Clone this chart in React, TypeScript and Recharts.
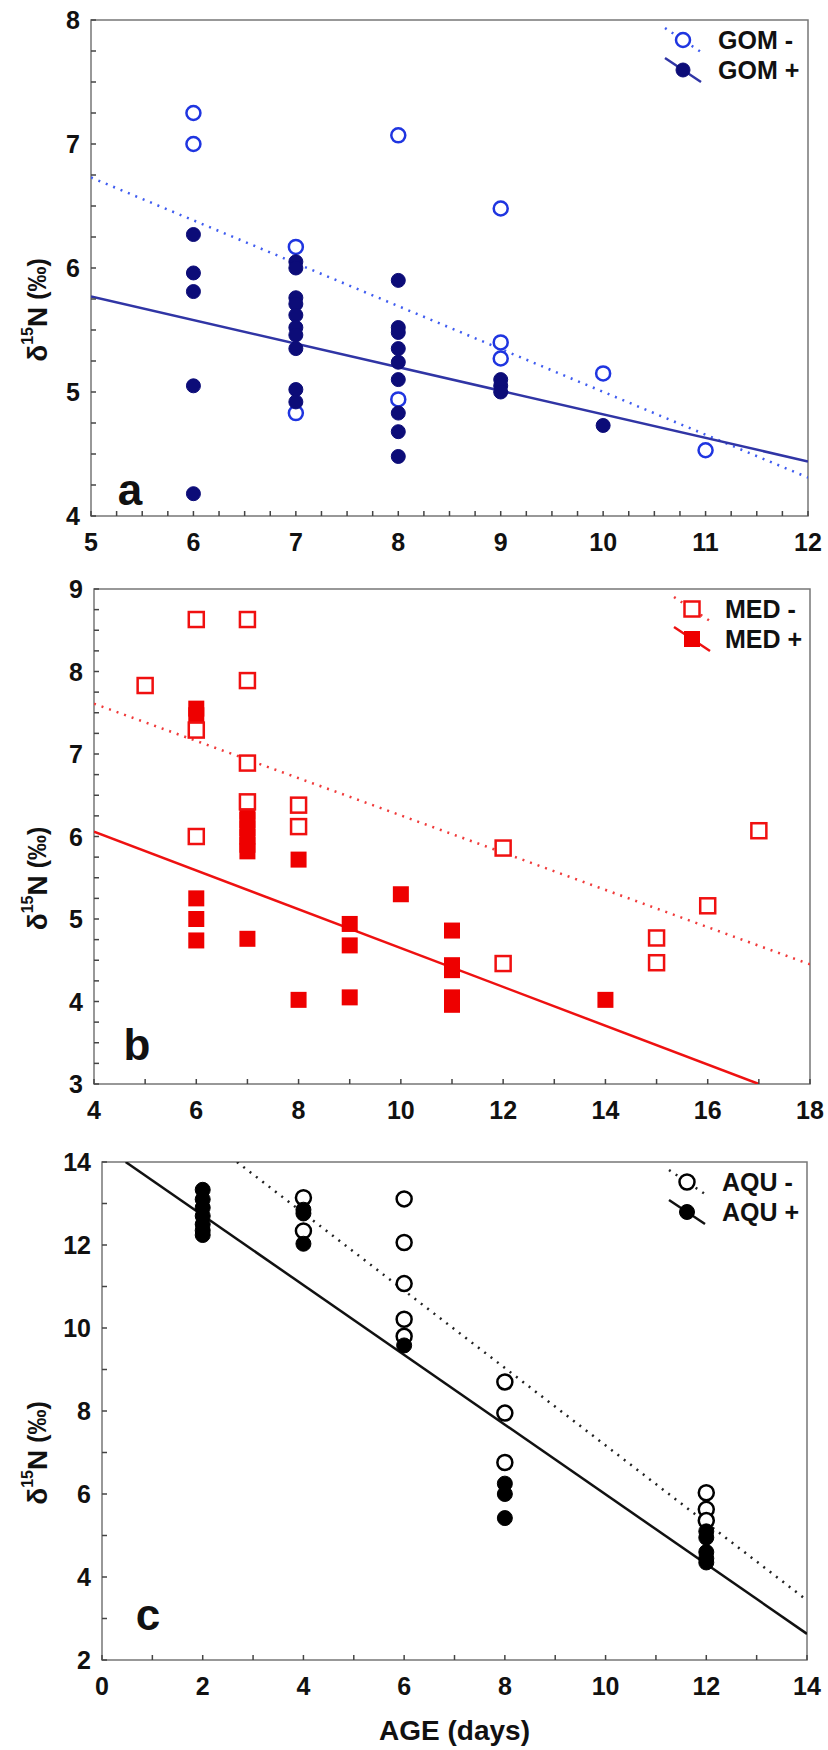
import React from "react";
import {
  ScatterChart,
  Scatter,
  XAxis,
  YAxis,
  ReferenceArea,
  ReferenceLine,
} from "recharts";

const FONT = "'Liberation Sans', Arial, sans-serif";

// ---- panel a: GOM (age, d15N) ----
const gomMinus = [
  [6, 7.25], [6, 7.0], [7, 6.17], [7, 4.83], [8, 7.07], [8, 4.94],
  [9, 6.48], [9, 5.4], [9, 5.27], [10, 5.15], [11, 4.53],
];
const gomPlus = [
  [6, 6.27], [6, 5.96], [6, 5.81], [6, 5.05], [6, 4.18],
  [7, 6.05], [7, 6.0], [7, 5.76], [7, 5.71], [7, 5.62], [7, 5.52], [7, 5.46], [7, 5.35], [7, 5.02], [7, 4.92],
  [8, 5.9], [8, 5.52], [8, 5.48], [8, 5.35], [8, 5.24], [8, 5.1], [8, 4.83], [8, 4.68], [8, 4.48],
  [9, 5.1], [9, 5.05], [9, 5.0], [10, 4.73],
];
const gomMinusFit = [[5, 6.73], [12, 4.31]];
const gomPlusFit = [[5, 5.77], [12, 4.44]];

// ---- panel b: MED ----
const medMinus = [
  [5, 7.83], [6, 8.63], [6, 7.29], [6, 6.0], [7, 8.63], [7, 7.89], [7, 6.89], [7, 6.42],
  [8, 6.38], [8, 6.12], [12, 5.86], [12, 4.46], [15, 4.77], [15, 4.47], [16, 5.16], [17, 6.07],
];
const medPlus = [
  [6, 7.55], [6, 7.47], [6, 5.25], [6, 5.0], [6, 4.74],
  [7, 6.3], [7, 6.2], [7, 6.1], [7, 6.0], [7, 5.9], [7, 5.82], [7, 4.76],
  [8, 5.72], [8, 4.02], [9, 4.94], [9, 4.68], [9, 4.05], [10, 5.3],
  [11, 4.86], [11, 4.44], [11, 4.38], [11, 4.05], [11, 3.96], [14, 4.02],
];
const medMinusFit = [[4, 7.61], [18, 4.45]];
const medPlusFit = [[4, 6.06], [17, 3.0]];

// ---- panel c: AQU ----
const aquMinus = [
  [4, 13.14], [4, 12.34], [6, 13.11], [6, 12.06], [6, 11.07], [6, 10.21], [6, 9.8],
  [8, 8.7], [8, 7.95], [8, 6.76], [12, 6.03], [12, 5.63], [12, 5.36],
];
const aquPlus = [
  [2, 13.33], [2, 13.1], [2, 12.9], [2, 12.7], [2, 12.5], [2, 12.35], [2, 12.24],
  [4, 12.85], [4, 12.76], [4, 12.03], [6, 9.58], [8, 6.25], [8, 6.0], [8, 5.42],
  [12, 5.1], [12, 4.95], [12, 4.6], [12, 4.45], [12, 4.35],
];
const aquMinusFit = [[2.68, 14], [14, 3.44]];
const aquPlusFit = [[0.47, 14], [14, 2.63]];

// tick labels
const aXLabels = [5, 6, 7, 8, 9, 10, 11, 12];
const aYLabels = [4, 5, 6, 7, 8];
const bXLabels = [4, 6, 8, 10, 12, 14, 16, 18];
const bYLabels = [3, 4, 5, 6, 7, 8, 9];
const cXLabels = [0, 2, 4, 6, 8, 10, 12, 14];
const cYLabels = [2, 4, 6, 8, 10, 12, 14];

// minor tick positions
const steps = (from: number, to: number, step: number) => {
  const out: number[] = [];
  for (let i = 0; from + i * step <= to + 1e-9; i++) out.push(from + i * step);
  return out;
};

const pts = (arr: number[][]) => arr.map(([x, y]) => ({ x, y }));

// inward tick + optional label
const Tick = ({ x, y, payload, side, labels }: any) => {
  const v = payload.value;
  const show = labels && labels.includes(v);
  const len = 5;
  let line = null;
  let label = null;
  const txt = { fontFamily: FONT, fontWeight: "bold" as const, fontSize: 25, fill: "#111" };
  if (side === "bottom") {
    line = <line x1={x} y1={y} x2={x} y2={y - len} stroke="#444" strokeWidth={1.5} />;
    if (show) label = <text x={x} y={y + 26} textAnchor="middle" dominantBaseline="central" {...txt}>{v}</text>;
  } else if (side === "top") {
    line = <line x1={x} y1={y} x2={x} y2={y + len} stroke="#444" strokeWidth={1.5} />;
  } else if (side === "left") {
    line = <line x1={x} y1={y} x2={x + len} y2={y} stroke="#444" strokeWidth={1.5} />;
    if (show) label = <text x={x - 11} y={y} textAnchor="end" dominantBaseline="central" {...txt}>{v}</text>;
  } else {
    line = <line x1={x} y1={y} x2={x - len} y2={y} stroke="#444" strokeWidth={1.5} />;
  }
  return <g>{line}{label}</g>;
};

const openCircle = (color: string, r: number) => (p: any) =>
  <circle cx={p.cx} cy={p.cy} r={r} fill="#fff" stroke={color} strokeWidth={2.5} />;
const fullCircle = (color: string, r: number) => (p: any) =>
  <circle cx={p.cx} cy={p.cy} r={r} fill={color} stroke={color} strokeWidth={1} />;
const openSquare = (color: string, s: number) => (p: any) =>
  <rect x={p.cx - s / 2} y={p.cy - s / 2} width={s} height={s} fill="#fff" stroke={color} strokeWidth={2.5} />;
const fullSquare = (color: string, s: number) => (p: any) =>
  <rect x={p.cx - s / 2} y={p.cy - s / 2} width={s} height={s} fill={color} />;

const YTitle = ({ cx, cy }: any) => (
  <text
    transform={`translate(${cx},${cy}) rotate(-90)`}
    textAnchor="middle"
    dominantBaseline="central"
    fontFamily={FONT}
    fontWeight="bold"
    fill="#111"
  >
    <tspan fontSize={28}>δ</tspan>
    <tspan fontSize={16} dy={-10}>15</tspan>
    <tspan fontSize={28} dy={10}>N</tspan>
    <tspan fontSize={25}> (‰)</tspan>
  </text>
);

const LegendRow = ({ y, mx, tx, label, lineColor, dotted, marker }: any) => (
  <g>
    <line
      x1={mx - 18} y1={y - 12} x2={mx + 18} y2={y + 12}
      stroke={lineColor} strokeWidth={2.5}
      strokeDasharray={dotted ? "2 6" : undefined}
    />
    {marker({ cx: mx, cy: y })}
    <text x={tx} y={y} dominantBaseline="central" fontFamily={FONT} fontWeight="bold" fontSize={25} fill="#111">
      {label}
    </text>
  </g>
);

type PanelProps = {
  top: number;
  height: number;
  plotTop: number;
  xAxisH: number;
  yAxisW: number;
  right: number;
  xDomain: [number, number];
  yDomain: [number, number];
  xTicks: number[];
  yTicks: number[];
  xLabels: number[];
  yLabels: number[];
  minus: number[][];
  plus: number[][];
  minusFit: number[][];
  plusFit: number[][];
  minusShape: any;
  plusShape: any;
  minusLine: string;
  plusLine: string;
  names: [string, string];
  plusOnTop: boolean;
  legendX: [number, number];
  letter: string;
  letterPos: [number, number];
  xTitle?: string;
};

const Panel = (p: PanelProps) => {
  const plotBottom = p.height - p.xAxisH;
  const midY = (p.plotTop + plotBottom) / 2;
  const minusSeries = (
    <Scatter key="m" data={pts(p.minus)} shape={p.minusShape} isAnimationActive={false} />
  );
  const plusSeries = (
    <Scatter key="p" data={pts(p.plus)} shape={p.plusShape} isAnimationActive={false} />
  );
  return (
    <div style={{ position: "absolute", left: 0, top: p.top, width: 828, height: p.height }}>
      <ScatterChart
        width={828}
        height={p.height}
        margin={{ top: p.plotTop, right: p.right, bottom: 0, left: 0 }}
      >
        <XAxis
          type="number" dataKey="x" domain={p.xDomain} ticks={p.xTicks} interval={0}
          allowDataOverflow height={p.xAxisH} axisLine={false} tickLine={false}
          tickSize={0} tickMargin={0}
          tick={(t: any) => <Tick {...t} side="bottom" labels={p.xLabels} />}
        />
        <XAxis
          xAxisId="top" orientation="top" type="number" domain={p.xDomain} ticks={p.xTicks}
          interval={0} allowDataOverflow height={0} axisLine={false} tickLine={false}
          tickSize={0} tickMargin={0}
          tick={(t: any) => <Tick {...t} side="top" />}
        />
        <YAxis
          type="number" dataKey="y" domain={p.yDomain} ticks={p.yTicks} interval={0}
          allowDataOverflow width={p.yAxisW} axisLine={false} tickLine={false}
          tickSize={0} tickMargin={0}
          tick={(t: any) => <Tick {...t} side="left" labels={p.yLabels} />}
        />
        <YAxis
          yAxisId="right" orientation="right" type="number" domain={p.yDomain} ticks={p.yTicks}
          interval={0} allowDataOverflow width={0} axisLine={false} tickLine={false}
          tickSize={0} tickMargin={0}
          tick={(t: any) => <Tick {...t} side="right" />}
        />
        <ReferenceArea
          x1={p.xDomain[0]} x2={p.xDomain[1]} y1={p.yDomain[0]} y2={p.yDomain[1]}
          fill="none" fillOpacity={0} stroke="#777" strokeWidth={1.5} ifOverflow="visible"
        />
        <ReferenceLine
          segment={pts(p.minusFit)} stroke={p.minusLine} strokeWidth={2.5}
          strokeDasharray="2 6" ifOverflow="hidden"
        />
        <ReferenceLine
          segment={pts(p.plusFit)} stroke={p.plusLine} strokeWidth={2.5} ifOverflow="hidden"
        />
        {p.plusOnTop ? [minusSeries, plusSeries] : [plusSeries, minusSeries]}
      </ScatterChart>
      <svg
        width={828}
        height={p.height}
        style={{ position: "absolute", left: 0, top: 0, pointerEvents: "none" }}
      >
        <YTitle cx={37} cy={midY + 42} />
        <text
          x={p.letterPos[0]} y={p.letterPos[1]} textAnchor="middle"
          fontFamily={FONT} fontWeight="bold" fontSize={44} fill="#111"
        >
          {p.letter}
        </text>
        <LegendRow
          y={p.plotTop + 20} mx={p.legendX[0]} tx={p.legendX[1]} label={p.names[0]}
          lineColor={p.minusLine} dotted marker={p.minusShape}
        />
        <LegendRow
          y={p.plotTop + 50} mx={p.legendX[0]} tx={p.legendX[1]} label={p.names[1]}
          lineColor={p.plusLine} marker={p.plusShape}
        />
        {p.xTitle && (
          <text
            x={(p.yAxisW + 828 - p.right) / 2} y={588} textAnchor="middle" dominantBaseline="central"
            fontFamily={FONT} fontWeight="bold" fontSize={28} fill="#111"
          >
            {p.xTitle}
          </text>
        )}
      </svg>
    </div>
  );
};

export default function App() {
  return (
    <div style={{ position: "absolute", left: 0, top: 0, width: 828, height: 1750, background: "#fff" }}>
      <Panel
        top={0} height={570} plotTop={20} xAxisH={54} yAxisW={91} right={20}
        xDomain={[5, 12]} yDomain={[4, 8]}
        xTicks={steps(5, 12, 0.25)} yTicks={steps(4, 8, 0.25)}
        xLabels={aXLabels} yLabels={aYLabels}
        minus={gomMinus} plus={gomPlus} minusFit={gomMinusFit} plusFit={gomPlusFit}
        minusShape={openCircle("#1f35e0", 7)} plusShape={fullCircle("#0c0c78", 7)}
        minusLine="#3f5cf0" plusLine="#3035a5"
        names={["GOM -", "GOM +"]} plusOnTop
        legendX={[683, 718]} letter="a" letterPos={[130, 505]}
      />
      <Panel
        top={569} height={571} plotTop={20} xAxisH={56} yAxisW={94} right={18}
        xDomain={[4, 18]} yDomain={[3, 9]}
        xTicks={steps(4, 18, 1)} yTicks={steps(3, 9, 0.25)}
        xLabels={bXLabels} yLabels={bYLabels}
        minus={medMinus} plus={medPlus} minusFit={medMinusFit} plusFit={medPlusFit}
        minusShape={openSquare("#f01010", 15)} plusShape={fullSquare("#ee0000", 16)}
        minusLine="#f03a3a" plusLine="#ee1111"
        names={["MED -", "MED +"]} plusOnTop={false}
        legendX={[692, 725]} letter="b" letterPos={[137, 491]}
      />
      <Panel
        top={1142} height={608} plotTop={20} xAxisH={90} yAxisW={102} right={21}
        xDomain={[0, 14]} yDomain={[2, 14]}
        xTicks={steps(0, 14, 1)} yTicks={steps(2, 14, 1)}
        xLabels={cXLabels} yLabels={cYLabels}
        minus={aquMinus} plus={aquPlus} minusFit={aquMinusFit} plusFit={aquPlusFit}
        minusShape={openCircle("#000", 7.5)} plusShape={fullCircle("#000", 7.5)}
        minusLine="#222" plusLine="#111"
        names={["AQU -", "AQU +"]} plusOnTop
        legendX={[687, 722]} letter="c" letterPos={[148, 488]} xTitle="AGE (days)"
      />
    </div>
  );
}
